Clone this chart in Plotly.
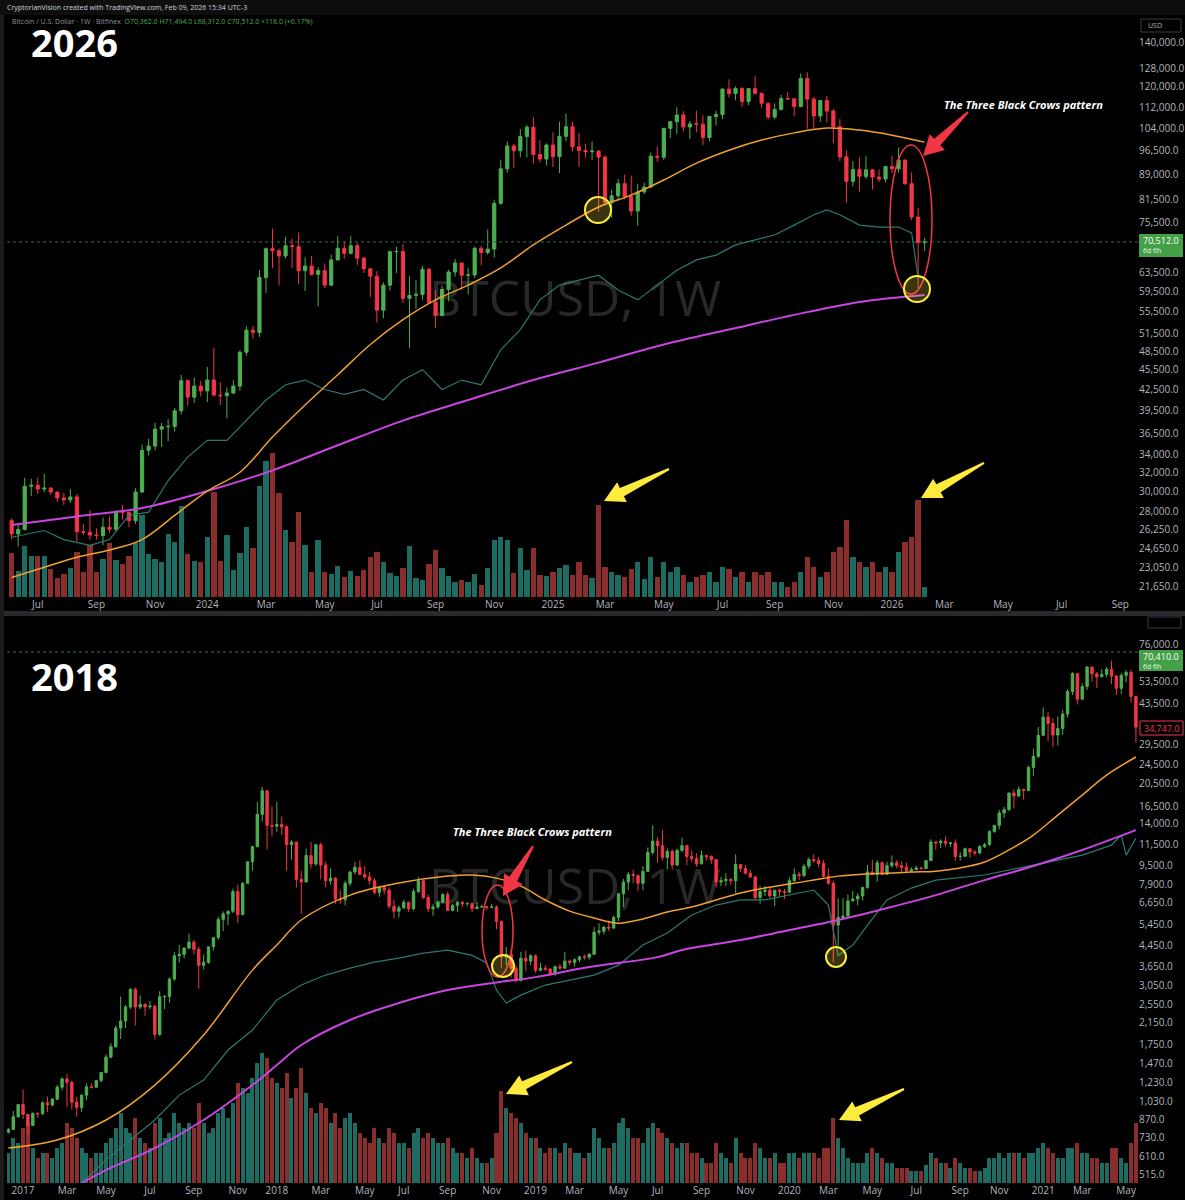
import math
import pandas as pd
import plotly.graph_objects as go

W, H = 1185, 1200

# ======================= 2026 panel (BTCUSD 1W, Bitfinex) =======================
top_first_week = "2023-06-05"
top_first_open = 27100
top_close = [25900, 26300, 30500, 30600, 30200, 30300, 29900, 29300, 29100, 29400,
             26100, 26050, 25800, 25750, 26500, 26300, 28000, 27900, 27100, 29900,
             34500, 35000, 37100, 37400, 37450, 39500, 43800, 41400, 43000, 42300,
             43900, 41700, 41600, 42000, 43000, 48300, 52100, 51700, 62400, 68900,
             68400, 67200, 69600, 69400, 63900, 64900, 63100, 63900, 60800, 66300,
             69000, 67800, 69600, 66700, 64300, 62700, 55800, 60800, 68200, 68250,
             58100, 58700, 58900, 64200, 57300, 54800, 59900, 63600, 65600, 62900,
             62950, 69000, 68000, 68800, 80500, 90600, 98000, 96400, 101200, 104500,
             95200, 93700, 98300, 94500, 101300, 104700, 97700, 96500, 96100, 96300,
             94300, 80700, 82600, 86100, 82400, 78400, 83700, 85100, 94600, 94300,
             104100, 106500, 109000, 104600, 105700, 105600, 100900, 108400, 109200, 119100,
             117300, 119400, 114200, 119300, 117400, 113500, 108200, 111100, 115300, 115200,
             112200, 123500, 115100, 108600, 114500, 110500, 104700, 94400, 86800, 90400,
             88300, 90300, 88100, 87500, 91300, 90600, 93400, 86100, 76800, 70362,
             70512]
top_high = [27300, 26800, 31400, 31300, 31400, 31800, 30400, 29700, 29800, 30200,
            29700, 26800, 28100, 26400, 27400, 27500, 28000, 28600, 27900, 30300,
            35200, 35900, 37900, 37900, 38400, 39900, 44700, 44000, 44300, 43800,
            45900, 49000, 43600, 42800, 43900, 48600, 52800, 52900, 64000, 69200,
            73800, 68900, 71800, 71300, 72800, 66900, 67200, 64700, 65500, 67500,
            71900, 70600, 71900, 70200, 67000, 64500, 63800, 61400, 68400, 69400,
            70000, 62700, 61800, 64900, 64500, 59800, 60700, 64100, 66500, 65000,
            64500, 69400, 69500, 73600, 81500, 93500, 99600, 98700, 103900, 105300,
            108300, 99900, 98900, 102700, 106500, 109600, 106400, 102500, 98800, 99500,
            96500, 95000, 84300, 87500, 88800, 88500, 86100, 86400, 95800, 97900,
            104300, 106700, 111900, 110400, 106800, 110600, 108900, 108500, 110600, 119500,
            123200, 120200, 119800, 119500, 124500, 117600, 113600, 113400, 116800, 117900,
            115400, 125700, 126200, 115900, 114000, 116400, 111200, 107500, 96600, 93100,
            94200, 94600, 90500, 90400, 91500, 94800, 97500, 93400, 89500, 79300,
            71494]
top_low = [25400, 24800, 26200, 29500, 29700, 29900, 29600, 28900, 28600, 28800,
           25200, 25800, 25400, 25400, 24900, 26000, 26100, 27200, 26500, 26800,
           29800, 33900, 34500, 34900, 35600, 36800, 39000, 40200, 40600, 41500,
           40700, 41500, 40300, 38500, 41800, 42300, 47700, 50600, 50900, 59200,
           64500, 60800, 66600, 64500, 61000, 59600, 62800, 56500, 60200, 60600,
           66100, 66600, 67600, 65100, 63400, 58400, 53500, 54300, 59700, 63400,
           57200, 49000, 56100, 57800, 57200, 52500, 54600, 57500, 62600, 59800,
           58900, 62300, 65100, 67500, 66800, 80100, 89400, 90800, 94300, 94200,
           92200, 92600, 91600, 91200, 89300, 99600, 96200, 91200, 94100, 93400,
           78200, 80000, 76600, 81200, 81600, 77100, 74500, 83100, 85100, 92800,
           93400, 100700, 102100, 103100, 100400, 102700, 98200, 99600, 105100, 107500,
           115700, 114700, 112000, 112700, 116800, 111700, 107300, 107300, 110600, 114800,
           108600, 112000, 104000, 103500, 106400, 106300, 98900, 93000, 80600, 85300,
           83800, 87500, 84400, 86600, 86500, 89300, 89500, 85800, 76000, 60200,
           68312]
top_volume = [44, 26, 51, 41, 41, 41, 28, 19, 23, 29,
              45, 25, 52, 25, 38, 54, 37, 33, 41, 54,
              82, 43, 38, 35, 63, 55, 91, 43, 36, 35,
              60, 105, 36, 62, 27, 44, 70, 49, 111, 136,
              144, 104, 67, 55, 85, 52, 25, 57, 25, 23,
              31, 20, 26, 21, 27, 40, 45, 35, 24, 21,
              29, 51, 19, 17, 33, 47, 29, 21, 15, 17,
              15, 23, 12, 29, 57, 60, 57, 24, 49, 27,
              49, 22, 21, 25, 29, 32, 22, 35, 22, 19,
              92, 30, 25, 22, 20, 28, 35, 18, 40, 20,
              35, 25, 30, 22, 15, 20, 22, 25, 15, 30,
              28, 20, 25, 15, 25, 22, 25, 15, 15, 10,
              15, 25, 40, 30, 20, 25, 45, 50, 77, 40,
              35, 30, 35, 25, 30, 25, 45, 55, 60, 97,
              10]
top_ma50_idx = [0, 5, 10, 15, 20, 25, 30, 35, 40, 45, 50, 55, 60, 65, 70, 75, 80, 85, 90,
                95, 100, 105, 110, 115, 120, 125, 130, 135, 140]
top_ma50 = [22300, 23100, 23900, 24500, 25400, 27600, 30000, 32000, 36100, 40300, 44700,
            49600, 54000, 57800, 60800, 64500, 69800, 74700, 79500, 82800, 87200, 92400,
            96600, 100000, 102500, 104200, 103500, 101700, 99300]
top_ma200_idx = [0, 10, 20, 30, 40, 50, 60, 70, 80, 90, 100, 110, 120, 130, 140]
top_ma200 = [26700, 27500, 28300, 30000, 32200, 35100, 38200, 41000, 43900, 46600, 49600,
             52200, 54900, 57400, 58800]
top_teal_idx = [0, 5, 8, 12, 15, 18, 21, 24, 27, 30, 33, 36, 39, 42, 45, 48, 51, 54, 57,
                60, 63, 66, 69, 72, 75, 78, 81, 84, 87, 90, 93, 96, 99, 102, 105, 108, 111,
                114, 117, 120, 123, 125, 127, 130, 133, 136, 138, 139, 140]
top_teal = [25600, 26200, 25400, 24900, 25400, 27600, 27900, 31100, 33700, 35700, 35700,
            38200, 41000, 43200, 43900, 42500, 41800, 42500, 41000, 43900, 45500, 42500,
            43900, 43200, 48700, 52200, 57800, 60800, 61900, 62900, 59800, 57800, 60800,
            64000, 66300, 67400, 69800, 71000, 72200, 74700, 77400, 78700, 77400, 74700,
            74200, 74200, 72700, 62500, 62500]
top_price_ticks = [140000, 128000, 120000, 112000, 104000, 96500, 89000, 81500, 75500,
                   63500, 59500, 55500, 51500, 48500, 45500, 42500, 39500, 36500, 34000,
                   32000, 30000, 28000, 26250, 24650, 23050, 21650]
top_x_ticks = ["2023-07-03", "2023-09-04", "2023-11-06", "2024-01-01", "2024-03-04",
               "2024-05-06", "2024-07-01", "2024-09-02", "2024-11-04", "2025-01-06",
               "2025-03-03", "2025-05-05", "2025-07-07", "2025-09-01", "2025-11-03",
               "2026-01-05", "2026-03-02", "2026-05-04", "2026-07-06", "2026-09-07"]
top_x_labels = ["Jul", "Sep", "Nov", "2024", "Mar", "May", "Jul", "Sep", "Nov", "2025",
                "Mar", "May", "Jul", "Sep", "Nov", "2026", "Mar", "May", "Jul", "Sep"]
top_x_range = ["2023-05-31", "2026-09-26"]
top_last_price = 70512

# ======================= 2018 panel =======================
bot_first_week = "2016-12-12"
bot_first_open = 770
bot_close = [790, 890, 998, 910, 820, 920, 915, 1015, 995, 1050,
             1175, 1270, 1230, 1020, 970, 1090, 1180, 1175, 1250, 1350,
             1560, 1720, 2050, 2190, 2500, 2950, 2500, 2560, 2500, 2520,
             1930, 2750, 2760, 3250, 4050, 4100, 4350, 4600, 4300, 3700,
             3800, 4400, 4800, 5700, 6000, 6150, 7400, 5950, 8000, 9800,
             11300, 15300, 19100, 13800, 13700, 13900, 13600, 11500, 11800, 8300,
             8100, 10400, 9600, 11500, 9500, 8200, 8400, 6900, 6850, 8000,
             8900, 9300, 8700, 8500, 8200, 7350, 7700, 7500, 6450, 6150,
             6350, 6700, 6300, 7400, 8200, 7000, 6300, 6400, 6700, 7200,
             6200, 6500, 6700, 6600, 6620, 6300, 6400, 6420, 6380, 6400,
             5600, 4000, 4100, 3600, 3200, 3950, 3850, 4050, 3530, 3600,
             3570, 3430, 3650, 3600, 3850, 3800, 3900, 4000, 3990, 4100,
             5050, 5100, 5300, 5250, 5800, 7250, 8100, 8700, 8600, 8000,
             8950, 10700, 11900, 11400, 10200, 10800, 9500, 10900, 11400, 10300,
             10100, 9600, 10400, 10300, 10000, 8100, 8200, 8300, 8200, 9550,
             9200, 8800, 8500, 7000, 7400, 7500, 7100, 7500, 7400, 7350,
             8200, 8700, 8600, 9400, 10000, 9900, 9650, 8550, 8000, 5400,
             5800, 5880, 6780, 6900, 7100, 7700, 8900, 8700, 9700, 8700,
             9450, 9700, 9450, 9300, 9000, 9100, 9250, 9200, 9900, 11800,
             11700, 11900, 11650, 11700, 10300, 10320, 11080, 10750, 10650, 11300,
             11500, 13000, 13800, 15500, 16000, 18700, 18200, 19350, 19150, 23800,
             26400, 32200, 38200, 36000, 32300, 34300, 39300, 48600, 57500, 45200,
             51000, 61200, 57400, 55800, 57100, 60000, 56200, 50100, 56600, 58200,
             46400, 34747]
bot_high = [800, 940, 1000, 1150, 910, 925, 925, 1030, 1075, 1060,
            1200, 1290, 1330, 1250, 1075, 1100, 1215, 1220, 1255, 1350,
            1600, 1780, 2100, 2760, 2550, 2980, 3000, 2790, 2600, 2650,
            2550, 2900, 2790, 3300, 4200, 4480, 4370, 4980, 4700, 4400,
            4100, 4400, 4800, 5850, 6150, 6200, 7600, 7900, 8100, 9800,
            11300, 17200, 19800, 19200, 16500, 17200, 15000, 13800, 12000, 11800,
            9000, 11100, 11800, 11600, 11700, 9800, 9200, 8500, 7500, 8200,
            9000, 9800, 9900, 9400, 8900, 8400, 7800, 7800, 7700, 6850,
            6500, 6850, 6700, 7600, 8500, 8300, 7200, 6600, 6800, 7300,
            7400, 6600, 6800, 6750, 6700, 6650, 6700, 6550, 6450, 6600,
            6500, 5600, 4400, 4300, 3700, 4200, 4250, 4100, 4100, 3800,
            3700, 3600, 3700, 3750, 4200, 3900, 3950, 4050, 4100, 4150,
            5300, 5500, 5350, 5650, 5900, 7300, 8350, 8900, 9100, 8700,
            9400, 11200, 13800, 12400, 13200, 11100, 11000, 11100, 12300, 11500,
            10900, 10600, 10900, 10450, 10400, 10050, 8500, 8800, 8400, 10500,
            9550, 9500, 9100, 8500, 7800, 7800, 7700, 7500, 7600, 7600,
            8450, 9200, 8900, 9600, 10200, 10500, 10250, 9950, 9200, 8200,
            6950, 6950, 7200, 7450, 7300, 7750, 9500, 10000, 9950, 9850,
            9800, 10400, 9950, 9850, 9700, 9300, 9450, 9350, 9950, 12100,
            11900, 12100, 12450, 11800, 12100, 10700, 11200, 11100, 10950, 11450,
            11700, 13200, 13850, 15950, 16400, 18800, 19400, 19900, 19450, 24200,
            28400, 34800, 41900, 40000, 37800, 38500, 40900, 49700, 58300, 57500,
            52600, 61700, 61200, 58400, 60000, 61200, 64900, 56800, 58000, 59500,
            59600, 46600]
bot_low = [760, 790, 880, 870, 750, 815, 880, 905, 930, 980,
           1040, 1140, 975, 950, 890, 930, 1040, 1160, 1170, 1230,
           1340, 1540, 1700, 1850, 2050, 2450, 2100, 2450, 2300, 2450,
           1840, 1900, 2450, 2600, 3200, 3800, 3950, 4300, 4100, 2970,
           3550, 3750, 4250, 4700, 5100, 5400, 6050, 5500, 5950, 8000,
           9000, 11200, 14300, 11000, 12500, 13000, 12600, 9000, 10000, 7700,
           6000, 8100, 9200, 9400, 8300, 7700, 7900, 6600, 6600, 6500,
           7800, 8700, 8900, 8300, 7900, 7200, 7050, 7200, 6300, 5750,
           5800, 6300, 6100, 6200, 7300, 6900, 6100, 5900, 6300, 6650,
           6200, 6150, 6100, 6400, 6450, 6100, 6300, 6400, 6200, 6350,
           5200, 3600, 3700, 3300, 3150, 3200, 3500, 3700, 3450, 3500,
           3500, 3350, 3350, 3550, 3600, 3700, 3650, 3800, 3900, 3900,
           4100, 4900, 4950, 5100, 5200, 5600, 6400, 7500, 8000, 7450,
           7500, 8950, 10500, 9700, 9900, 9100, 9100, 9400, 10700, 9500,
           9800, 9350, 9600, 9900, 9600, 7700, 7800, 7800, 7900, 7300,
           8900, 8700, 8400, 6800, 6600, 7100, 7000, 6450, 7050, 6900,
           7350, 8100, 8250, 8500, 9150, 9700, 9300, 8450, 7900, 3800,
           4450, 5700, 5850, 6750, 6500, 6800, 7600, 8700, 8100, 8800,
           8650, 9250, 9200, 8900, 8850, 8900, 9050, 9050, 9150, 9900,
           11000, 11150, 11300, 11250, 9900, 9900, 10250, 10150, 10400, 10500,
           11150, 11400, 12900, 13300, 14800, 15800, 16200, 18000, 17600, 19000,
           22000, 26000, 32000, 30500, 28800, 29200, 32300, 38000, 47000, 43000,
           45000, 49300, 53300, 50300, 55800, 55500, 52000, 47000, 47500, 53000,
           43800, 30000]
bot_volume = [30, 45, 40, 55, 60, 35, 25, 30, 30, 25,
              35, 40, 60, 55, 45, 35, 30, 25, 30, 30,
              40, 45, 55, 70, 55, 50, 65, 45, 40, 35,
              60, 65, 45, 50, 70, 60, 55, 60, 55, 80,
              60, 50, 55, 70, 75, 65, 80, 100, 95, 90,
              105, 120, 130, 125, 105, 100, 95, 110, 85, 95,
              115, 90, 75, 70, 80, 75, 60, 70, 55, 65,
              70, 60, 50, 45, 40, 55, 45, 40, 55, 50,
              40, 40, 35, 50, 55, 45, 50, 45, 40, 40,
              45, 35, 30, 30, 25, 35, 25, 20, 20, 25,
              50, 92, 75, 70, 65, 60, 50, 45, 45, 35,
              30, 35, 35, 30, 40, 35, 30, 30, 25, 30,
              55, 45, 35, 35, 40, 60, 65, 55, 45, 45,
              40, 55, 60, 55, 50, 45, 40, 35, 40, 40,
              30, 30, 25, 20, 20, 40, 30, 25, 20, 45,
              30, 25, 25, 40, 35, 25, 25, 30, 20, 20,
              30, 30, 25, 30, 30, 30, 25, 35, 35, 65,
              45, 35, 25, 20, 20, 20, 30, 35, 30, 25,
              20, 20, 15, 15, 15, 12, 12, 12, 18, 30,
              25, 20, 20, 15, 25, 20, 15, 15, 12, 12,
              15, 25, 25, 30, 25, 30, 30, 30, 25, 30,
              30, 35, 40, 35, 30, 25, 25, 35, 35, 40,
              30, 30, 25, 25, 20, 20, 35, 35, 25, 20,
              40, 60]
bot_ma50_idx = [0, 10, 20, 30, 40, 50, 55, 60, 70, 80, 90, 95, 100, 105, 110, 115, 120, 125,
                130, 135, 140, 145, 150, 155, 160, 165, 170, 175, 180, 185, 190, 195, 200,
                205, 210, 215, 220, 225, 231]
bot_ma50 = [663, 715, 863, 1199, 1920, 3535, 4475, 5665, 7160, 8020, 8560, 8650, 8400, 7790,
            6840, 6160, 5770, 5500, 5720, 6110, 6400, 6840, 7300, 7650, 7940, 8250, 8560,
            8720, 8800, 8890, 8970, 9240, 9770, 10950, 12600, 15200, 18350, 22150, 26250]
bot_ma200_idx = [15, 20, 30, 40, 50, 55, 60, 70, 80, 90, 100, 108, 119, 133, 138, 150, 160,
                 170, 180, 190, 200, 210, 220, 231]
bot_ma200 = [477, 539, 663, 863, 1199, 1447, 1748, 2212, 2595, 2930, 3150, 3310, 3640, 3995,
             4270, 4690, 5155, 5665, 6340, 7160, 8245, 9410, 10950, 13200]
bot_teal_idx = [15, 20, 25, 30, 35, 40, 45, 50, 55, 60, 65, 70, 75, 80, 85, 90, 95, 98, 100,
                102, 105, 110, 115, 120, 125, 130, 135, 140, 145, 150, 155, 160, 165, 168,
                170, 173, 176, 180, 185, 190, 200, 210, 220, 226, 228, 229, 231]
bot_teal = [477, 592, 715, 863, 1091, 1257, 1667, 2012, 2667, 3072, 3375, 3605, 3810, 3960,
            4150, 4270, 4060, 3780, 2930, 2595, 2795, 3072, 3220, 3375, 3705, 4475, 5010,
            5940, 6520, 6840, 6840, 7160, 7510, 6520, 4060, 4475, 5400, 6840, 7650, 8245,
            8650, 9500, 10430, 11460, 12600, 10430, 12230]
bot_price_ticks = [76000, 53500, 43500, 29500, 24500, 20500, 16500, 14000, 11500, 9500,
                   7900, 6650, 5450, 4450, 3650, 3050, 2550, 2150, 1750, 1470, 1230, 1030,
                   870, 730, 610, 515]
bot_x_ticks = ["2017-01-02", "2017-03-06", "2017-05-01", "2017-07-03", "2017-09-04",
               "2017-11-06", "2018-01-01", "2018-03-05", "2018-05-07", "2018-07-02",
               "2018-09-03", "2018-11-05", "2019-01-07", "2019-03-04", "2019-05-06",
               "2019-07-01", "2019-09-02", "2019-11-04", "2020-01-06", "2020-03-02",
               "2020-05-04", "2020-07-06", "2020-09-07", "2020-11-02", "2021-01-04",
               "2021-03-01", "2021-05-03"]
bot_x_labels = ["2017", "Mar", "May", "Jul", "Sep", "Nov", "2018", "Mar", "May", "Jul",
                "Sep", "Nov", "2019", "Mar", "May", "Jul", "Sep", "Nov", "2020", "Mar",
                "May", "Jul", "Sep", "Nov", "2021", "Mar", "May"]
bot_x_range = ["2016-12-10", "2021-05-20"]
bot_live_price = 70410

# ======================= styling =======================
UP, DN = "#4caf50", "#f23645"
VUP, VDN = "#1d6b61", "#8a2d2d"
ORANGE, PURPLE, TEAL = "#f0a030", "#c845e0", "#2b7a70"
AXIS_TXT = "#b2b5be"
FONT = "Open Sans"


def px(x):
    return x / W


def py(y):
    return 1 - y / H


def fmt(v):
    return f"{v:,.1f}"


fig = go.Figure()


def add_panel(first_week, first_open, close, high, low, vol, ma50_idx, ma50, ma200_idx,
              ma200, teal_idx, teal, live_price, xr, xa, ya_vol, ya_px):
    dates = pd.date_range(first_week, periods=len(close), freq="7D")
    opens = [first_open] + close[:-1]
    vcol = [VUP if c >= o else VDN for o, c in zip(opens, close)]
    fig.add_trace(go.Bar(x=dates, y=vol, marker=dict(color=vcol, line=dict(width=0)),
                         width=0.82 * 7 * 86400000, xaxis=xa, yaxis=ya_vol))
    fig.add_trace(go.Candlestick(x=dates, open=opens, high=high, low=low, close=close,
                                 increasing=dict(line=dict(color=UP, width=1), fillcolor=UP),
                                 decreasing=dict(line=dict(color=DN, width=1), fillcolor=DN),
                                 whiskerwidth=0, xaxis=xa, yaxis=ya_px))
    fig.add_trace(go.Scatter(x=[dates[i] for i in teal_idx], y=teal, mode="lines",
                             line=dict(color=TEAL, width=1.2), xaxis=xa, yaxis=ya_px))
    fig.add_trace(go.Scatter(x=[dates[i] for i in ma200_idx], y=ma200, mode="lines",
                             line=dict(color=PURPLE, width=2, shape="spline"), xaxis=xa, yaxis=ya_px))
    fig.add_trace(go.Scatter(x=[dates[i] for i in ma50_idx], y=ma50, mode="lines",
                             line=dict(color=ORANGE, width=1.5, shape="spline"), xaxis=xa, yaxis=ya_px))
    fig.add_trace(go.Scatter(x=xr, y=[live_price, live_price], mode="lines",
                             line=dict(color="#3f6b4c", width=1, dash="dot"), xaxis=xa, yaxis=ya_px))


add_panel(top_first_week, top_first_open, top_close, top_high, top_low, top_volume,
          top_ma50_idx, top_ma50, top_ma200_idx, top_ma200, top_teal_idx, top_teal,
          top_last_price, top_x_range, "x", "y", "y3")
add_panel(bot_first_week, bot_first_open, bot_close, bot_high, bot_low, bot_volume,
          bot_ma50_idx, bot_ma50, bot_ma200_idx, bot_ma200, bot_teal_idx, bot_teal,
          bot_live_price, bot_x_range, "x2", "y2", "y4")

XD = [px(7), px(1138)]
TOP_PX = (16, 597)
BOT_PX = (617, 1183)


def lnrange(p_top, y_top, per_ln, y0, y1):
    hi = math.log(p_top) + (y_top - y0) / per_ln
    lo = math.log(p_top) - (y1 - y_top) / per_ln
    return [lo / math.log(10), hi / math.log(10)]


top_yr = lnrange(140000, 42, 291.5, TOP_PX[0], TOP_PX[1])
bot_yr = lnrange(76000, 644, 106.3, BOT_PX[0], BOT_PX[1])

xcommon = dict(showgrid=False, zeroline=False, showline=False, ticks="",
               tickfont=dict(size=10, color=AXIS_TXT, family=FONT), rangeslider=dict(visible=False),
               fixedrange=True)
ycommon = dict(showgrid=False, zeroline=False, showline=False, ticks="", side="right",
               tickfont=dict(size=10, color=AXIS_TXT, family=FONT), type="log")

fig.update_layout(
    width=W, height=H, margin=dict(l=0, r=0, t=0, b=0),
    paper_bgcolor="#000000", plot_bgcolor="#000000",
    showlegend=False, hovermode=False, bargap=0,
    xaxis=dict(domain=XD, anchor="y", range=top_x_range, tickvals=top_x_ticks,
               ticktext=top_x_labels, **xcommon),
    yaxis=dict(domain=[py(TOP_PX[1]), py(TOP_PX[0])], anchor="x", range=[0, TOP_PX[1] - TOP_PX[0]],
               visible=False, fixedrange=True),
    yaxis3=dict(overlaying="y", anchor="x", range=top_yr, tickvals=top_price_ticks,
                ticktext=[fmt(v) for v in top_price_ticks], **ycommon),
    xaxis2=dict(domain=XD, anchor="y2", range=bot_x_range, tickvals=bot_x_ticks,
                ticktext=bot_x_labels, **xcommon),
    yaxis2=dict(domain=[py(BOT_PX[1]), py(BOT_PX[0])], anchor="x2", range=[0, BOT_PX[1] - BOT_PX[0]],
                visible=False, fixedrange=True),
    yaxis4=dict(overlaying="y2", anchor="x2", range=bot_yr, tickvals=bot_price_ticks,
                ticktext=[fmt(v) for v in bot_price_ticks], **ycommon),
)

shapes = []
ann = []

# frame pieces
shapes.append(dict(type="rect", xref="paper", yref="paper", x0=0, x1=1, y0=py(15), y1=1,
                   fillcolor="#0e0e0e", line=dict(width=0), layer="below"))
shapes.append(dict(type="rect", xref="paper", yref="paper", x0=0, x1=1, y0=py(616), y1=py(611),
                   fillcolor="#2a2a2e", line=dict(width=0)))
shapes.append(dict(type="rect", xref="paper", yref="paper", x0=0, x1=px(4), y0=0, y1=py(15),
                   fillcolor="#1c1c1e", line=dict(width=0)))

# watermarks
for cy in (300, 888):
    shapes.append(dict(type="rect", xref="paper", yref="paper", x0=px(420), x1=px(730),
                       y0=py(cy + 25), y1=py(cy - 25), line=dict(width=0),
                       fillcolor="rgba(0,0,0,0)", layer="below",
                       label=dict(text="BTCUSD, 1W", font=dict(size=50, color="#282828", family=FONT),
                                  textposition="middle center")))


def arrow_path(t, h, w_tail=1.0, w_neck=4.5, head_len=20, head_w=11):
    tx, ty = t
    hx, hy = h
    L = math.hypot(hx - tx, hy - ty)
    ux, uy = (hx - tx) / L, (hy - ty) / L
    nx, ny = -uy, ux
    bx, by = hx - ux * head_len, hy - uy * head_len
    pts = [(tx + nx * w_tail, ty + ny * w_tail), (bx + nx * w_neck, by + ny * w_neck),
           (bx + nx * head_w, by + ny * head_w), (hx, hy),
           (bx - nx * head_w, by - ny * head_w), (bx - nx * w_neck, by - ny * w_neck),
           (tx - nx * w_tail, ty - ny * w_tail)]
    return "M " + " L ".join(f"{px(x):.5f},{py(y):.5f}" for x, y in pts) + " Z"


red_arrows = [((968, 112), (923, 156)), ((533, 846), (503, 896))]
yellow_arrows = [((669, 469), (604, 501)), ((984, 463), (921, 498)),
                 ((572, 1062), (506, 1094)), ((904, 1089), (839, 1120))]
for t, h in red_arrows:
    shapes.append(dict(type="path", xref="paper", yref="paper", path=arrow_path(t, h),
                       fillcolor=DN, line=dict(width=0)))
for t, h in yellow_arrows:
    shapes.append(dict(type="path", xref="paper", yref="paper", path=arrow_path(t, h),
                       fillcolor="#ffeb3b", line=dict(width=0)))

red_ellipses = [(890, 145, 932, 294), (482, 885, 513, 977)]
for x0, y0, x1, y1 in red_ellipses:
    shapes.append(dict(type="circle", xref="paper", yref="paper", x0=px(x0), x1=px(x1),
                       y0=py(y1), y1=py(y0), line=dict(color=DN, width=1.5)))
yellow_circles = [(598, 210, 13), (917, 289, 13), (503, 966, 11), (836, 957, 10)]
for cx, cy, r in yellow_circles:
    shapes.append(dict(type="circle", xref="paper", yref="paper", x0=px(cx - r), x1=px(cx + r),
                       y0=py(cy + r), y1=py(cy - r), fillcolor="rgba(255,235,59,0.22)",
                       line=dict(color="#ffeb3b", width=2)))

# price-axis boxes
shapes.append(dict(type="rect", xref="paper", yref="paper", x0=px(1141), x1=px(1181),
                   y0=py(32), y1=py(19), line=dict(color="#3a3d46", width=1), fillcolor="#000"))
ann.append(dict(xref="paper", yref="paper", x=px(1146), y=py(25.5), text="USD", showarrow=False,
                xanchor="left", yanchor="middle", font=dict(size=7, color=AXIS_TXT, family=FONT)))
shapes.append(dict(type="rect", xref="paper", yref="paper", x0=px(1148), x1=px(1181),
                   y0=py(628), y1=py(617), line=dict(color="#3a3d46", width=1), fillcolor="#000"))

# live price boxes
live_boxes = [(234, 257, top_last_price), (650, 671, bot_live_price)]
for y0, y1, val in live_boxes:
    shapes.append(dict(type="rect", xref="paper", yref="paper", x0=px(1139), x1=px(1183),
                       y0=py(y1), y1=py(y0), line=dict(width=0), fillcolor="#43a047"))
    ann.append(dict(xref="paper", yref="paper", x=px(1141), y=py(y0 + 6.5), text=fmt(val),
                    showarrow=False, xanchor="left", yanchor="middle",
                    font=dict(size=9, color="#ffffff", family=FONT)))
    ann.append(dict(xref="paper", yref="paper", x=px(1141), y=py(y0 + 16), text="6d 6h",
                    showarrow=False, xanchor="left", yanchor="middle",
                    font=dict(size=7, color="#e8f5e9", family=FONT)))
shapes.append(dict(type="rect", xref="paper", yref="paper", x0=px(1140), x1=px(1183),
                   y0=py(735), y1=py(721), line=dict(color=DN, width=1), fillcolor="#000"))
ann.append(dict(xref="paper", yref="paper", x=px(1142), y=py(728), text=fmt(bot_close[-1]),
                showarrow=False, xanchor="left", yanchor="middle",
                font=dict(size=9, color=DN, family=FONT)))

# titles & texts
ann.append(dict(xref="paper", yref="paper", x=px(5), y=py(7),
                text="CryptorianVision created with TradingView.com, Feb 09, 2026 15:34 UTC-3",
                showarrow=False, xanchor="left", yanchor="middle",
                font=dict(size=7, color="#d1d4dc", family=FONT)))
ann.append(dict(xref="paper", yref="paper", x=px(10), y=py(22),
                text="<span style='color:#8f929b'>Bitcoin / U.S. Dollar · 1W · Bitfinex</span>  "
                     "<span style='color:#4caf50'>O70,362.0 H71,494.0 L68,312.0 C70,512.0 +118.0 (+0.17%)</span>",
                showarrow=False, xanchor="left", yanchor="middle", font=dict(size=7, family=FONT)))
ann.append(dict(xref="paper", yref="paper", x=px(29), y=py(42), text="<b>2026</b>",
                showarrow=False, xanchor="left", yanchor="middle",
                font=dict(size=38, color="#ffffff", family=FONT)))
ann.append(dict(xref="paper", yref="paper", x=px(29), y=py(676), text="<b>2018</b>",
                showarrow=False, xanchor="left", yanchor="middle",
                font=dict(size=38, color="#ffffff", family=FONT)))
for cx, cy in ((1023, 104), (532, 831)):
    ann.append(dict(xref="paper", yref="paper", x=px(cx), y=py(cy),
                    text="<b><i>The Three Black Crows pattern</i></b>", showarrow=False,
                    xanchor="center", yanchor="middle",
                    font=dict(size=11, color="#ffffff", family=FONT)))

fig.update_layout(shapes=shapes, annotations=ann)
fig.write_html("out.html")
